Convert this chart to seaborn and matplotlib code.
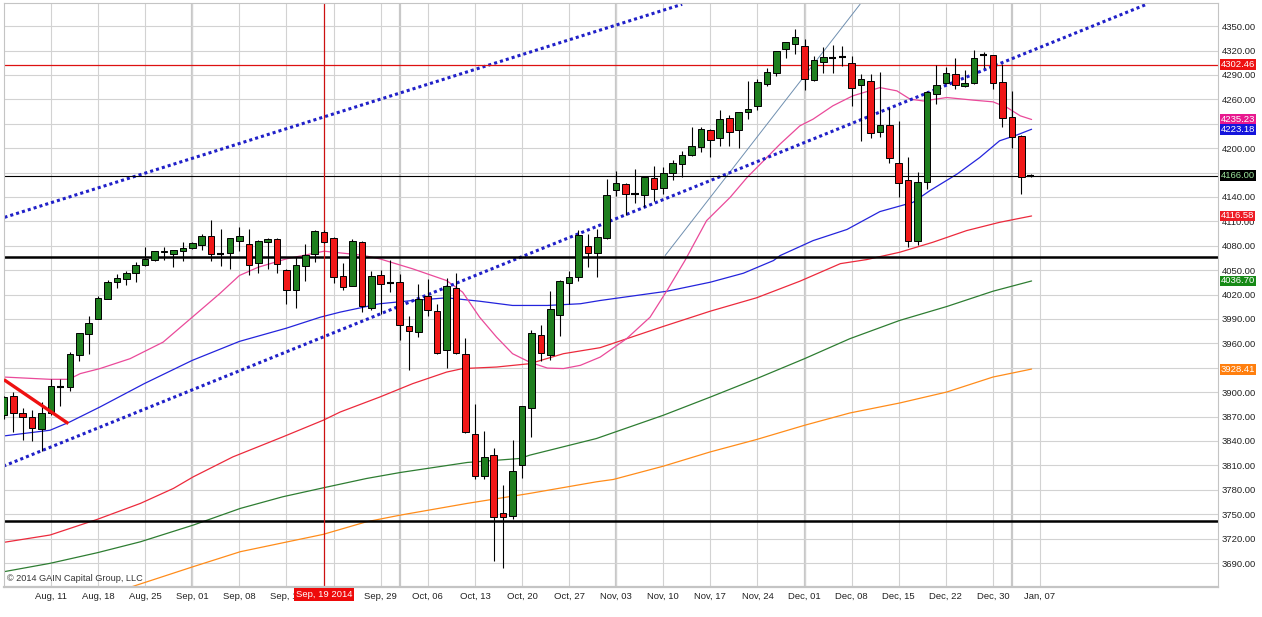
import matplotlib
matplotlib.use("Agg")
import matplotlib.pyplot as plt
import seaborn as sns
import numpy as np

# ---------------- data ----------------
# bar index 0 = Aug 04 2014 ... 109 = Jan 06 2015
opens = [3872, 3895, 3874, 3869, 3855, 3874, 3906, 3906, 3946, 3971,
         3990, 4015, 4035, 4039, 4046, 4056, 4063, 4072, 4070, 4074,
         4077, 4081, 4092, 4071, 4071, 4086, 4082, 4059, 4085, 4088,
         4050, 4026, 4055, 4070, 4097, 4090, 4043, 4031, 4085, 4004,
         4044, 4034, 4036, 3981, 3974, 4018, 4000, 3952, 4028, 3947,
         3848, 3797, 3823, 3751, 3748, 3811, 3880, 3970, 3946, 3995,
         4034, 4041, 4080, 4071, 4090, 4149, 4156, 4144, 4142, 4163,
         4151, 4169, 4181, 4191, 4201, 4222, 4212, 4237, 4222, 4244,
         4252, 4279, 4292, 4322, 4328, 4326, 4284, 4306, 4311, 4312.5,
         4305, 4277, 4282, 4220, 4228, 4182, 4161, 4086, 4158, 4266,
         4280, 4291, 4276, 4280, 4314, 4314, 4281, 4238, 4215, 4166]
highs = [3895, 3900, 3880, 3878, 3888, 3916, 3916, 3949, 3973, 3994,
         4018, 4038, 4045, 4049, 4060, 4078, 4074, 4078, 4075, 4085,
         4084, 4094, 4112, 4100, 4090, 4103, 4101, 4087, 4089, 4089,
         4051, 4066, 4082, 4099, 4099, 4091, 4059, 4088, 4086, 4049,
         4050, 4063, 4045, 3994, 4033, 4039, 4009, 4040, 4047, 3966,
         3885, 3852, 3831, 3786, 3841, 3883, 3976, 3982, 4024, 4038,
         4049, 4099, 4095, 4101, 4162, 4172, 4157, 4174, 4165, 4178,
         4177, 4185, 4196, 4226, 4226, 4223, 4247, 4241, 4245, 4283,
         4285, 4299, 4319, 4330, 4346, 4334, 4313, 4324, 4327, 4326,
         4313, 4291, 4291, 4293, 4249, 4233, 4189, 4171, 4270, 4302,
         4300, 4311, 4296, 4321, 4318, 4315, 4303, 4270, 4216, 4168]
lows = [3867, 3851, 3841, 3840, 3828, 3872, 3883, 3901, 3938, 3947,
        3990, 4015, 4028, 4032, 4035, 4055, 4061, 4062, 4054, 4061,
        4076, 4075, 4061, 4055, 4052, 4074, 4044, 4046, 4051, 4047,
        4009, 4003, 4037, 4060, 4083, 4034, 4026, 4030, 3998, 4001,
        3996, 4023, 3964, 3927, 3968, 3994, 3947, 3930, 3947, 3850,
        3793, 3793, 3692, 3684, 3744, 3794, 3845, 3938, 3939, 3969,
        4009, 4037, 4054, 4041, 4088, 4141, 4118, 4132, 4128, 4135,
        4143, 4161, 4165, 4190, 4195, 4189, 4202, 4202, 4200, 4236,
        4247, 4276, 4289, 4311, 4316, 4272, 4283, 4292, 4292, 4301,
        4252, 4209, 4213, 4214, 4182, 4140, 4079, 4081, 4150, 4254,
        4279, 4273, 4275, 4279, 4299, 4273, 4226, 4200, 4144, 4164]
closes = [3894, 3875, 3869, 3856, 3874, 3908, 3906.5, 3947, 3973, 3985,
          4016, 4036, 4040, 4047, 4056, 4064, 4073, 4074, 4075, 4077,
          4083, 4092, 4070, 4070, 4089, 4092, 4056, 4086, 4088, 4058,
          4026, 4056, 4069, 4098, 4084, 4042, 4029, 4086, 4006, 4043,
          4033, 4034, 3983, 3975, 4015, 4001, 3948, 4030, 3948, 3851,
          3797, 3820, 3746, 3746, 3803, 3883, 3973, 3948, 4002, 4037,
          4041, 4093, 4071, 4091, 4142, 4157, 4143, 4144, 4165, 4150,
          4169, 4182, 4192, 4202, 4223, 4210, 4236, 4220, 4245, 4248,
          4281, 4293, 4319, 4330, 4337, 4285, 4308, 4312, 4311, 4312.5,
          4274, 4285, 4218, 4228, 4188, 4157, 4086, 4158, 4269, 4278,
          4292, 4277, 4280, 4311, 4314, 4280, 4237, 4214, 4165, 4166]

tick_idx = list(range(5, 111, 5))
# "Sep, 22" sits completely under the red cursor-date box in the reference
tick_labels = ["Aug, 11", "Aug, 18", "Aug, 25", "Sep, 01", "Sep, 08", "Sep, 15",
               "", "Sep, 29", "Oct, 06", "Oct, 13", "Oct, 20", "Oct, 27",
               "Nov, 03", "Nov, 10", "Nov, 17", "Nov, 24", "Dec, 01", "Dec, 08",
               "Dec, 15", "Dec, 22", "Dec, 30", "Jan, 07"]
month_start_idx = [20, 42, 65, 85, 107]
y_ticks = list(range(3690, 4351, 30))
y_hidden_labels = [4230]   # fully covered by the value boxes in the reference

# moving averages (bar index, value)
ma_pink_idx = [0, 4.9, 6.9, 8.1, 10.2, 13.4, 16.9, 20, 22.9, 25, 27, 30, 34, 38.1, 39.9,
               43.4, 47.0, 48.7, 50.5, 52.3, 54.0, 55.8, 57.7, 59.4, 61.2, 63.3, 66.1,
               68.6, 70.4, 72.3, 74.6, 77.1, 78.9, 81.0, 82.4, 84.5, 85.9, 88.0, 90.1,
               93.0, 94.8, 96.2, 97.6, 100.1, 102.9, 105.0, 106.5, 107.9, 109.1]
ma_pink_val = [3918.6, 3915.8, 3915.8, 3922.8, 3929, 3941.2, 3961.5, 3992.2, 4021, 4043.4,
               4053.6, 4063.9, 4073.3, 4068.3, 4063.9, 4051.6, 4037.2, 4022.9, 3992.2,
               3967.7, 3947.3, 3937, 3929.6, 3929, 3933, 3943.1, 3965.7, 3992.2, 4025,
               4061.8, 4110.9, 4139.5, 4164, 4188.5, 4205, 4227.4, 4235.6, 4252, 4264.2,
               4274.4, 4270.4, 4260.2, 4258, 4262.2, 4259, 4256.9, 4249.9, 4239.7, 4235.2]
ma_blue_idx = [0, 4.9, 7.0, 10.2, 14.9, 20, 25, 30, 33.6, 35.7, 39.9, 43.4, 47.0, 50.5,
               54.0, 57.7, 61.2, 63.3, 70.4, 75.0, 78.5, 81.7, 82.4, 85.9, 89.5, 93.0,
               96.5, 98.3, 101.2, 103.6, 105.7, 107.6, 109.1]
ma_blue_val = [3846.2, 3853.2, 3863.4, 3881.8, 3910.5, 3939.1, 3962.4, 3978.7, 3992.2,
               3998.4, 4008.7, 4012.7, 4016, 4011.8, 4006.6, 4006.6, 4008.7, 4012.7,
               4024.1, 4035.2, 4046.2, 4061.8, 4067.9, 4086.3, 4100, 4122, 4133.3,
               4147.7, 4168.2, 4188.5, 4209, 4216.4, 4223.2]
ma_red_idx = [0, 4.9, 9.9, 14.5, 18.0, 20.1, 24.3, 29.6, 33.9, 35.7, 39.9, 43.4, 47.0,
              48.7, 52.3, 55.8, 59.4, 63.3, 70.0, 75.0, 79.9, 84.5, 88.8, 91.6, 95.1,
              98.6, 102.2, 105.7, 109.1]
ma_red_val = [3715.4, 3724.4, 3743.6, 3763.3, 3781.7, 3795.9, 3820.4, 3845, 3865.5,
              3875.6, 3894, 3910.5, 3924.7, 3929, 3930.9, 3935, 3947.3, 3954.7, 3980.8,
              3999.6, 4016, 4036.4, 4058, 4063, 4072, 4084.2, 4098.6, 4108.8, 4116.6]
ma_green_idx = [0, 4.9, 9.9, 14.5, 20.1, 25.1, 29.6, 33.9, 38.5, 42.1, 49.2, 54.8, 55.8,
                62.9, 70.0, 75.0, 79.9, 85.0, 89.8, 95.1, 100.1, 105.0, 109.1]
ma_green_val = [3679.3, 3689.6, 3702.6, 3716.1, 3736.6, 3757.1, 3771.4, 3782.4, 3793.9,
                3801.3, 3813.6, 3818.5, 3822.5, 3843, 3871.6, 3894, 3916.6, 3941.2,
                3965.7, 3988.2, 4005.3, 4024.1, 4036.7]
ma_orange_idx = [13.1, 20.1, 25.1, 33.9, 38.5, 42.1, 49.2, 55.8, 62.9, 64.7, 70.0, 75.0,
                 79.9, 85.0, 89.8, 95.1, 100.1, 105.0, 109.1]
ma_orange_val = [3659, 3685.5, 3703.9, 3725.2, 3740.7, 3748.9, 3763.3, 3775.5, 3789.8,
                 3792.7, 3809, 3826.6, 3841.8, 3859.3, 3874.4, 3886.7, 3900.2, 3918.6, 3928.4]

# drawn trend lines (bar index, value)
upper_channel_idx = [0.06, 72.0]
upper_channel_val = [4114.9, 4376.8]
lower_channel_idx = [-0.06, 121.35]
lower_channel_val = [3809.0, 4377.0]
steep_line_idx = [70.2, 90.9]
steep_line_val = [4068.0, 4377.0]
red_trend_idx = [0.0, 6.84]
red_trend_val = [3915.4, 3861.4]

# horizontal levels
level_red = 4302.46
level_last = 4166.00
level_black_hi = 4066.7
level_black_lo = 3741.9
cursor_idx = 34
cursor_label = "Sep, 19 2014"

# right-hand value labels
value_labels = [("4302.46", 4302.46, "#ee1111", "white"),
                ("4235.23", 4235.23, "#e8198f", "white"),
                ("4223.18", 4223.18, "#1414dc", "white"),
                ("4166.00", 4166.00, "#000000", "#9be39b"),
                ("4116.58", 4116.58, "#ee1c25", "white"),
                ("4036.70", 4036.70, "#168a16", "white"),
                ("3928.41", 3928.41, "#ff7f0e", "white")]

# ---------------- drawing ----------------
sns.set_style("white")
plt.rcParams['font.family'] = ['Liberation Sans', 'DejaVu Sans']

W, H = 1262, 617
fig = plt.figure(figsize=(W / 100, H / 100), dpi=100)
fig.patch.set_facecolor("white")
ax = fig.add_axes([3.5 / W, 30 / H, 1214.5 / W, 584 / H])

ax.set_xlim(-0.042, 128.89)
ax.set_ylim(3660.5, 4378.4)

# grid
ax.set_yticks(y_ticks)
ax.set_yticklabels(["" if v in y_hidden_labels else f"{v:.2f}" for v in y_ticks])
ax.set_xticks(tick_idx)
ax.set_xticklabels(tick_labels)
ax.grid(True, color="#d2d2d2", linewidth=0.8, zorder=0)
ax.set_axisbelow(True)
for m in month_start_idx:
    ax.axvline(m, color="#c8c8c8", linewidth=1.6, zorder=0.5)

ax.yaxis.tick_right()
ax.tick_params(axis="y", length=0, pad=2.5, labelsize=6.8, labelcolor="#222222")
ax.tick_params(axis="x", length=0, pad=3.5, labelsize=6.8, labelcolor="#222222")
for s in ax.spines.values():
    s.set_color("#c4c4c4")
    s.set_linewidth(0.8)
ax.spines["bottom"].set_linewidth(1.6)

# moving averages
for xs, ys, col in [(ma_orange_idx, ma_orange_val, "#ff8c1a"),
                    (ma_green_idx, ma_green_val, "#2e7d32"),
                    (ma_red_idx, ma_red_val, "#ec2a3c"),
                    (ma_blue_idx, ma_blue_val, "#2424dc"),
                    (ma_pink_idx, ma_pink_val, "#ea4a9a")]:
    sns.lineplot(x=xs, y=ys, ax=ax, color=col, linewidth=0.9, sort=False,
                 estimator=None, legend=False, zorder=2)

# trend lines
ax.plot(upper_channel_idx, upper_channel_val, color="#2020c8", linewidth=2.2,
        linestyle=(0, (1, 1)), zorder=2.2)
ax.plot(lower_channel_idx, lower_channel_val, color="#2020c8", linewidth=2.2,
        linestyle=(0, (1, 1)), zorder=2.2)
ax.plot(steep_line_idx, steep_line_val, color="#6f8fb0", linewidth=0.7, zorder=2.1)
ax.plot(red_trend_idx, red_trend_val, color="#ee1111", linewidth=2.4,
        solid_capstyle="butt", zorder=5)

# horizontal levels
ax.axhline(level_red, color="#dd1111", linewidth=0.9, zorder=2.3)
ax.axhline(level_last, color="#000000", linewidth=0.8, zorder=2.3)
ax.axhline(level_black_hi, color="#000000", linewidth=1.8, zorder=2.3)
ax.axhline(level_black_lo, color="#000000", linewidth=1.8, zorder=2.3)
ax.axvline(cursor_idx, color="#cc1111", linewidth=0.9, zorder=2.3)

# candles
idx = np.arange(len(opens))
o = np.array(opens, float)
h = np.array(highs, float)
l = np.array(lows, float)
c = np.array(closes, float)
ax.vlines(idx, l, h, color="black", linewidth=0.8, zorder=3)
doji = np.abs(c - o) < 1.2
body_lo = np.minimum(o, c)
body_h = np.maximum(np.abs(c - o), 1.5)
cols = np.where(c >= o, "#1f7f1f", "#f01818")
nd = ~doji
ax.bar(idx[nd], body_h[nd], bottom=body_lo[nd], width=0.7, color=cols[nd],
       edgecolor="black", linewidth=0.7, zorder=4)
ax.hlines(c[doji], idx[doji] - 0.38, idx[doji] + 0.38, color="black",
          linewidth=1.5, zorder=4)

# right-hand value boxes
ytr = ax.get_yaxis_transform()
for txt, v, fc, tc in value_labels:
    ax.annotate(txt, xy=(1.0, v), xycoords=ytr, xytext=(1.8, 0),
                textcoords="offset points", ha="left", va="center",
                fontsize=6.8, color=tc, annotation_clip=False, zorder=10,
                bbox=dict(boxstyle="square,pad=0.1", fc=fc, ec="none"))

# cursor date box
xtr = ax.get_xaxis_transform()
ax.text(cursor_idx, -0.0125, cursor_label, transform=xtr, ha="center", va="center",
        fontsize=6.8, color="white", zorder=10, clip_on=False,
        bbox=dict(boxstyle="square,pad=0.2", fc="#ee0a0a", ec="none"))

# copyright
ax.text(0.003, 0.0154, "\u00a9 2014 GAIN Capital Group, LLC", transform=ax.transAxes,
        ha="left", va="center", fontsize=6.6, color="#333333", zorder=10)

fig.savefig("out.png", dpi=100, facecolor="white")
